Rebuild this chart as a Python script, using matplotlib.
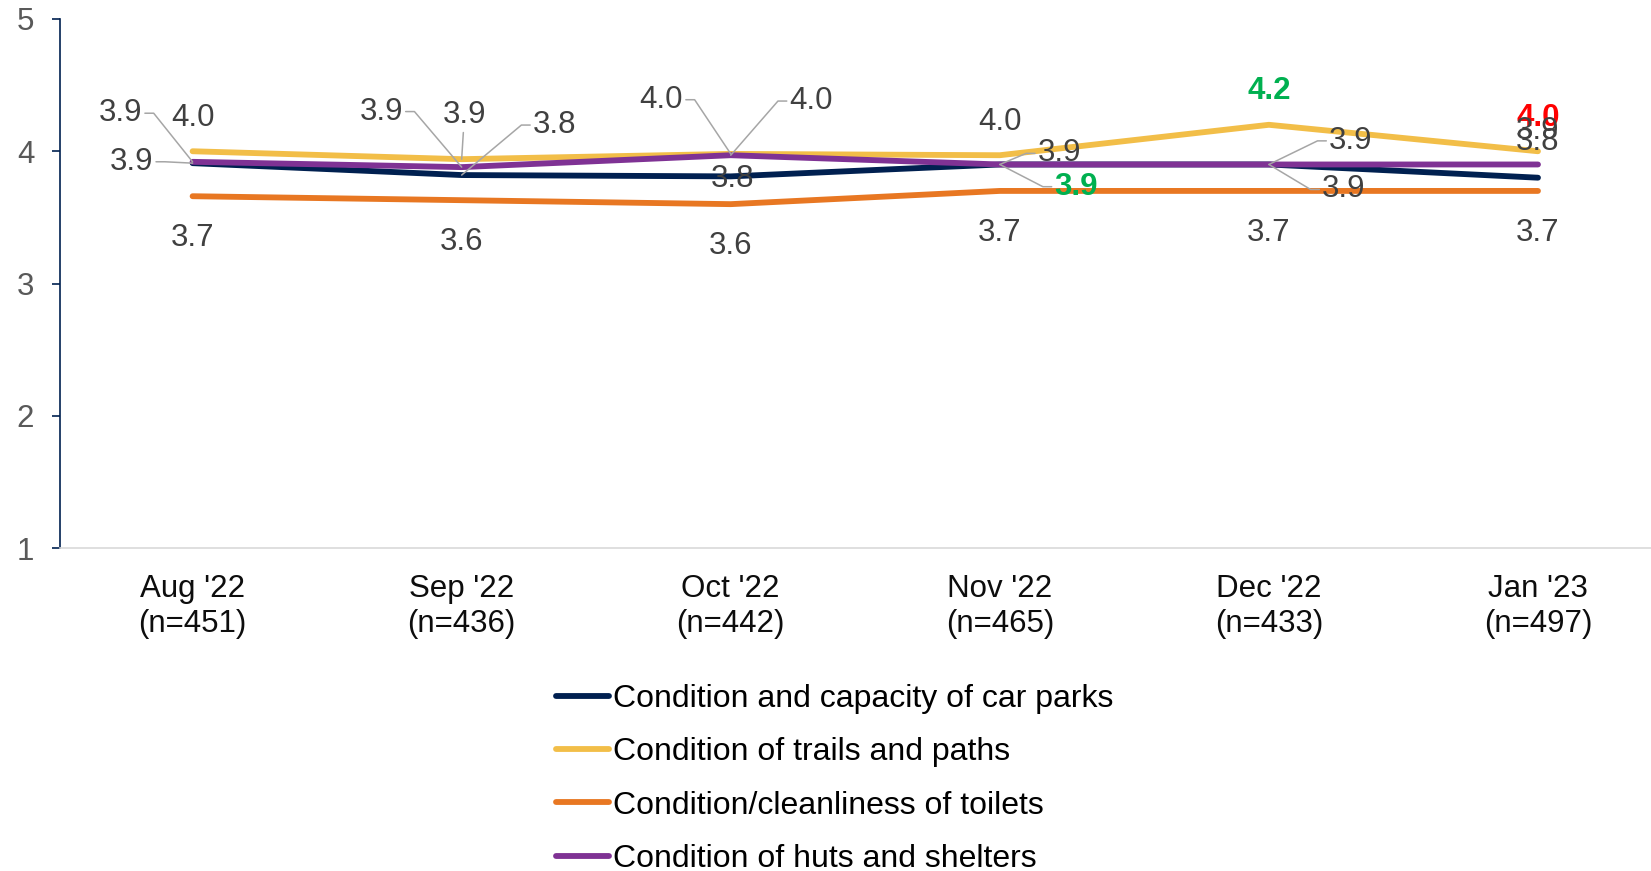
import math
import numpy as np
import matplotlib
matplotlib.use("Agg")
import matplotlib.pyplot as plt

plt.rcParams["font.family"] = ["Liberation Sans", "DejaVu Sans"]

# データ
months = ["Aug '22\n(n=451)", "Sep '22\n(n=436)", "Oct '22\n(n=442)",
          "Nov '22\n(n=465)", "Dec '22\n(n=433)", "Jan '23\n(n=497)"]

car_parks = [3.91, 3.82, 3.81, 3.90, 3.90, 3.80]
trails = [4.00, 3.94, 3.98, 3.97, 4.20, 4.00]
toilets = [3.66, 3.63, 3.60, 3.70, 3.70, 3.70]
huts = [3.92, 3.88, 3.97, 3.90, 3.90, 3.90]

series_names = ["Condition and capacity of car parks", "Condition of trails and paths",
                "Condition/cleanliness of toilets", "Condition of huts and shelters"]
series_colors = ["#002050", "#F2BE48", "#E87722", "#7F3294"]

# ラベル文字色（有意差：緑=上昇, 赤=下降）
trails_label_colors = ["n", "n", "n", "n", "up", "down"]
car_parks_label_colors = ["n", "n", "n", "up", "n", "n"]

LABEL_GRAY = "#404040"
LEADER_GRAY = "#A6A6A6"
COLOR_MAP = {"n": LABEL_GRAY, "up": "#00B050", "down": "#FF0000"}
FS = 22.5

fig = plt.figure(figsize=(16.51, 8.71), dpi=100)
ax = fig.add_axes([0.0363, 0.3708, 0.9637, 0.6074])

x = np.arange(len(months))
all_series = [car_parks, trails, toilets, huts]
# 描画順：トイレ → 駐車場 → 道 → 小屋
for idx in [2, 0, 1, 3]:
    ax.plot(x, all_series[idx], color=series_colors[idx], linewidth=4.2,
            solid_capstyle="round", solid_joinstyle="round",
            label=series_names[idx], zorder=3)


def put_label(i, y, dx, dy, kind="n", leader=None):
    """値ラベルを置く。leader: None / 'v' / 'l'(左に文字) / 'r'(右に文字)"""
    txt = f"{y:.1f}"
    arrow = None
    if leader == "v":
        arrow = dict(arrowstyle="-", color=LEADER_GRAY, lw=1.1,
                     shrinkA=0, shrinkB=0)
    elif leader in ("l", "r"):
        half_w, stub = 16.0, 8.0
        if leader == "l":
            kx = dx + half_w + stub
        else:
            kx = dx - half_w - stub
        theta = math.degrees(math.atan2(dy, kx))
        arrow = dict(arrowstyle="-", color=LEADER_GRAY, lw=1.1,
                     shrinkA=0, shrinkB=0,
                     connectionstyle=f"angle,angleA=0,angleB={theta:.2f},rad=0")
    ax.annotate(txt, xy=(i, y), xytext=(dx, dy), textcoords="offset points",
                ha="center", va="center", fontsize=FS,
                color=COLOR_MAP[kind], fontweight="bold" if kind != "n" else "normal",
                arrowprops=arrow, zorder=5)


# 道（trails）
trail_offsets = [(0, 24, None), (2, 32, "v"), (-50, 39, "l"), (0, 24, None), (0, 24, None), (0, 24, None)]
for i, (dx, dy, ld) in enumerate(trail_offsets):
    put_label(i, trails[i], dx, dy, trails_label_colors[i], ld)

# 小屋（huts）
hut_offsets = [(-52, 35, "l"), (-58, 40, "l"), (58, 39, "r"), (43, 8, "r"), (59, 17, "r"), (0, 24, None)]
for i, (dx, dy, ld) in enumerate(hut_offsets):
    put_label(i, huts[i], dx, dy, "n", ld)

# 駐車場（car parks）
car_offsets = [(-44, 1, "l"), (67, 36, "r"), (1, -2, None), (55, -16, "r"), (54, -18, "r"), (0, 26, None)]
for i, (dx, dy, ld) in enumerate(car_offsets):
    put_label(i, car_parks[i], dx, dy, car_parks_label_colors[i], ld)

# トイレ（トイレ）
for i in range(len(months)):
    put_label(i, toilets[i], 0, -30, "n", None)

# 軸
ax.set_xlim(-0.493, 5.42)
ax.set_ylim(1, 5)
ax.set_yticks([1, 2, 3, 4, 5])
ax.set_xticks(x)
ax.set_xticklabels(months, fontsize=FS, color="#0D0D0D", linespacing=1.22)
ax.tick_params(axis="x", length=0, pad=19)
ax.tick_params(axis="y", length=5.5, width=1.2, color="#002050",
               labelsize=FS, labelcolor="#595959", pad=13)

ax.spines["top"].set_visible(False)
ax.spines["right"].set_visible(False)
ax.spines["left"].set_color("#002050")
ax.spines["left"].set_linewidth(1.2)
ax.spines["bottom"].set_color("#D9D9D9")
ax.spines["bottom"].set_linewidth(1.2)

# 凡例：系列の元の順番で
handles, labels = ax.get_legend_handles_labels()
order = [labels.index(n) for n in series_names]
fig.legend([handles[k] for k in order], [labels[k] for k in order],
           loc="upper left", bbox_to_anchor=(0.327, 0.233),
           frameon=False, fontsize=23, handlelength=1.65,
           handletextpad=0.13, labelspacing=0.73, borderpad=0)

fig.savefig("out.png", dpi=100)
